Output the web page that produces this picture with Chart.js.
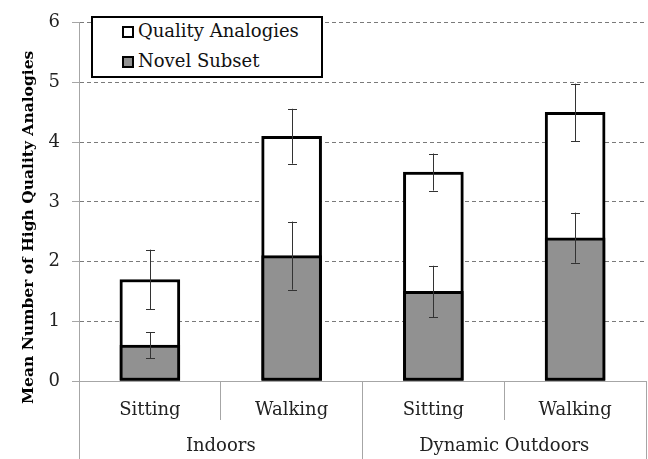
<!DOCTYPE html>
<html>
<head>
<meta charset="utf-8">
<script src="https://cdn.jsdelivr.net/npm/chart.js@4"></script>
<style>
	html, body { margin: 0; padding: 0; background: #fff; }
	#wrap { position: relative; width: 648px; height: 459px; }
	#legendBox {
		position: absolute; left: 91px; top: 16px; width: 228px; height: 58px;
		border: 2px solid #000; background: #fff;
		font-family: "DejaVu Serif", serif; font-size: 18px; color: #111;
	}
	.item { position: absolute; left: 29px; height: 20px; line-height: 20px; white-space: nowrap; }
	.sw { display: inline-block; width: 8px; height: 8px; border: 2.5px solid #000; vertical-align: -1px; margin-right: 4px; }
</style>
</head>
<body>
<div id="wrap">
	<canvas id="chart" width="648" height="459"></canvas>
	<div id="legendBox"></div>
</div>
<script>
var conditions = ["Sitting", "Walking", "Sitting", "Walking"];
var settings = ["Indoors", "Dynamic Outdoors"];
var seriesNames = ["Quality Analogies", "Novel Subset"];
var qualityMeans = [1.7, 4.1, 3.5, 4.5];
var qualityErr = [0.5, 0.46, 0.31, 0.48];
var novelMeans = [0.6, 2.1, 1.5, 2.4];
var novelErr = [0.22, 0.57, 0.43, 0.42];
var yTicks = [0, 1, 2, 3, 4, 5, 6];
var yTitle = "Mean Number of High Quality Analogies";

var serif = "'DejaVu Serif', serif";
var grey = "#919191";

// legend
var legendBox = document.getElementById("legendBox");
var fills = ["#ffffff", grey];
seriesNames.forEach(function (name, i) {
	var div = document.createElement("div");
	div.className = "item";
	div.style.top = (3 + i * 30) + "px";
	div.innerHTML = '<span class="sw" style="background:' + fills[i] + '"></span>' + name;
	legendBox.appendChild(div);
});

var errorBars = {
	id: "errorBars",
	afterDatasetsDraw: function (chart) {
		var ctx = chart.ctx;
		var yScale = chart.scales.y;
		ctx.save();
		ctx.strokeStyle = "#333";
		ctx.lineWidth = 1;
		chart.data.datasets.forEach(function (ds, i) {
			var meta = chart.getDatasetMeta(i);
			meta.data.forEach(function (bar, j) {
				var top = yScale.getPixelForValue(ds.data[j] + ds.errors[j]);
				var bottom = yScale.getPixelForValue(ds.data[j] - ds.errors[j]);
				var x = Math.round(bar.x) + 0.5;
				ctx.beginPath();
				ctx.moveTo(x, top);
				ctx.lineTo(x, bottom);
				ctx.moveTo(x - 4.5, Math.round(top) + 0.5);
				ctx.lineTo(x + 4.5, Math.round(top) + 0.5);
				ctx.moveTo(x - 4.5, Math.round(bottom) + 0.5);
				ctx.lineTo(x + 4.5, Math.round(bottom) + 0.5);
				ctx.stroke();
			});
		});
		ctx.restore();
	}
};

// y title sits a little lower than the plot centre, like the original
var axisTitle = {
	id: "axisTitle",
	afterDraw: function (chart) {
		var ctx = chart.ctx;
		var cy = (chart.chartArea.top + chart.scales.x.bottom) / 2 + 6;
		ctx.save();
		ctx.translate(29, cy);
		ctx.rotate(-Math.PI / 2);
		ctx.font = "bold 15.5px " + serif;
		ctx.fillStyle = "#000";
		ctx.textAlign = "center";
		ctx.textBaseline = "middle";
		ctx.fillText(yTitle, 0, 0);
		ctx.restore();
	}
};

new Chart(document.getElementById("chart"), {
	type: "bar",
	data: {
		labels: conditions,
		datasets: [
			{
				label: seriesNames[1],
				data: novelMeans,
				errors: novelErr,
				backgroundColor: grey,
				borderColor: "#000",
				borderWidth: 3,
				borderSkipped: false,
				grouped: false,
				barThickness: 60,
				order: 0
			},
			{
				label: seriesNames[0],
				data: qualityMeans,
				errors: qualityErr,
				backgroundColor: "#ffffff",
				borderColor: "#000",
				borderWidth: 3,
				borderSkipped: false,
				grouped: false,
				barThickness: 60,
				order: 1
			}
		]
	},
	options: {
		responsive: false,
		animation: false,
		layout: { padding: { top: 17, right: 2, left: 30, bottom: 0 } },
		plugins: {
			legend: { display: false },
			tooltip: { enabled: false }
		},
		scales: {
			x: {
				position: "bottom",
				weight: 0,
				grid: {
					offset: true,
					drawOnChartArea: false,
					tickLength: 39,
					tickColor: "#a6a6a6",
					lineWidth: 1
				},
				border: { color: "#a6a6a6" },
				ticks: {
					padding: -20,
					color: "#222",
					font: { family: serif, size: 18 }
				},
				afterFit: function (scale) { scale.height = 39; }
			},
			x2: {
				type: "category",
				position: "bottom",
				weight: 1,
				labels: settings,
				offset: true,
				grid: {
					offset: true,
					drawOnChartArea: false,
					tickLength: 40,
					tickColor: "#a6a6a6"
				},
				border: { display: false },
				ticks: {
					padding: -24,
					color: "#222",
					font: { family: serif, size: 18 }
				},
				afterFit: function (scale) { scale.height = 39; }
			},
			y: {
				min: 0,
				max: 6,
				afterBuildTicks: function (scale) {
					scale.ticks = yTicks.map(function (v) { return { value: v }; });
				},
				grid: {
					color: "#7a7a7a",
					tickColor: "#a6a6a6",
					tickLength: 7,
					tickBorderDash: []
				},
				border: { color: "#a6a6a6", dash: [4, 3] },
				ticks: {
					padding: 12,
					color: "#222",
					font: { family: serif, size: 18 }
				},
				afterFit: function (scale) { scale.width = 49; }
			}
		}
	},
	plugins: [errorBars, axisTitle]
});
</script>
</body>
</html>
